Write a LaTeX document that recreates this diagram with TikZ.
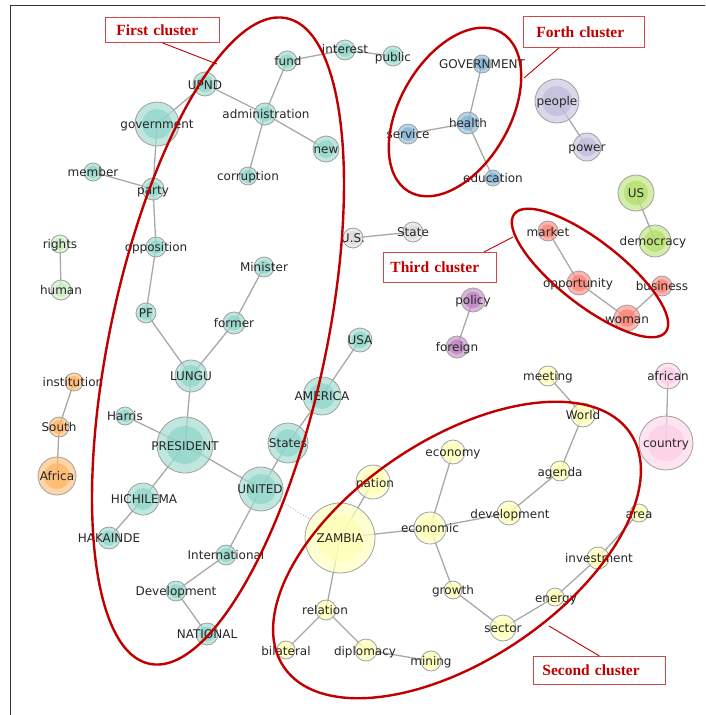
\documentclass[tikz,border=0pt]{standalone}
\usepackage{fontspec}
\setmainfont{DejaVu Sans}
\newfontfamily\clfont{Liberation Serif}
\usetikzlibrary{calc}
\definecolor{cteal}{HTML}{8DD3C7}
\definecolor{cyel}{HTML}{FFFFB3}
\definecolor{clav}{HTML}{BEBADA}
\definecolor{csal}{HTML}{FB8072}
\definecolor{cblue}{HTML}{80B1D3}
\definecolor{corange}{HTML}{FDB462}
\definecolor{cgreen}{HTML}{B3DE69}
\definecolor{cpink}{HTML}{FCCDE5}
\definecolor{cgray}{HTML}{D9D9D9}
\definecolor{cpurple}{HTML}{BC80BD}
\definecolor{clgreen}{HTML}{CCEBC5}
\definecolor{vborder}{HTML}{A0A0A0}
\definecolor{edgec}{HTML}{A8A8A8}
\definecolor{clred}{HTML}{C00000}
\definecolor{boxred}{HTML}{D04848}
\pgfdeclarelayer{bg}
\pgfsetlayers{bg,main}
\tikzset{
  vtx/.style n args={2}{circle, inner sep=0pt, minimum size={2*#1pt},
    draw=vborder, line width=0.8pt, fill=#2!80!white, fill opacity=0.7,
    path picture={\fill[#2, fill opacity=0.7] (path picture bounding box.center) circle[radius={0.68*#1pt}];}},
  lbl/.style={inner sep=0pt, text height=8.7pt, text depth=0pt, font=\fontsize{12}{14}\selectfont, text=black!85},
  edge/.style={draw=edgec, line width=1.3pt},
  dotedge/.style={draw=edgec!80, line width=1pt, dotted},
  cluster/.style={draw=clred, line width=2.4pt},
  cbox/.style={draw=boxred, line width=0.9pt, anchor=north west, align=left, inner ysep=0pt,
    font=\clfont\bfseries\fontsize{15.5}{18}\selectfont, text=clred},
  lead/.style={draw=clred, line width=0.9pt},
}
\begin{document}
\begin{tikzpicture}[x=1pt,y=-1pt]
\useasboundingbox (0,0) rectangle (705,715);
\draw[black!80, line width=0.8pt] (705,5.5) -- (10.5,5.5) -- (10.5,715);

% vertices and labels: name/x/y/r/color/text/dx/dy
\foreach \nm/\xx/\yy/\rr/\cc/\tx/\dx/\dy in {
 government/157/124/22/cteal/government/0/0,
 UPND/205/84/12/cteal/UPND/0/1,
 administration/265/114/11/cteal/administration/1/0,
 fund/287/61/10/cteal/fund/1/0,
 interest/345/50/10/cteal/interest/0/-1,
 public/393/56/10/cteal/public/0/1,
 new/326/149/13/cteal/new/0/0,
 corruption/248/176/9/cteal/corruption/0/0,
 member/93/172/9/cteal/member/0/0,
 party/153/189/11/cteal/party/0/1,
 opposition/156/247/10/cteal/opposition/0/0,
 Minister/264/267/10/cteal/Minister/0/0,
 PF/146/313/10/cteal/PF/0/0,
 former/234/323/11/cteal/former/0/0,
 LUNGU/191/376/16/cteal/LUNGU/0/0,
 USA/360/340/12/cteal/USA/0/0,
 AMERICA/322/396/19/cteal/AMERICA/0/0,
 Harris/125/416/9/cteal/Harris/0/0,
 PRESIDENT/185/445/28/cteal/PRESIDENT/0/1,
 States/288/443/20/cteal/States/0/0,
 UNITED/261/489/22/cteal/UNITED/-1/0,
 HICHILEMA/143/499/16/cteal/HICHILEMA/1/0,
 HAKAINDE/109/538/11/cteal/HAKAINDE/0/0,
 International/226/555/10/cteal/International/0/0,
 Development/176/591/10/cteal/Development/0/0,
 NATIONAL/207/634/11/cteal/NATIONAL/0/0,
 ZAMBIA/340/538/35/cyel/ZAMBIA/0/0,
 nation/373/482/17/cyel/nation/2/1,
 economy/453/452/12/cyel/economy/0/0,
 economic/430/528/16/cyel/economic/0/0,
 development/509/513/12/cyel/development/1/1,
 agenda/560/471/10/cyel/agenda/0/1,
 World/583/415/12/cyel/World/0/0,
 meeting/548/376/10/cyel/meeting/0/0,
 area/639/513/9/cyel/area/0/1,
 investment/598/558/11/cyel/investment/1/0,
 growth/453/590/9/cyel/growth/0/0,
 energy/555/597/9/cyel/energy/1/1,
 sector/503/628/13/cyel/sector/0/0,
 relation/326/610/10/cyel/relation/-1/0,
 bilateral/286/650/9/cyel/bilateral/0/1,
 diplomacy/366/650/11/cyel/diplomacy/-1/1,
 mining/431/661/10/cyel/mining/0/0,
 GOVERNMENT/482/64/9/cblue/GOVERNMENT/0/0,
 health/468/123/11/cblue/health/0/0,
 service/408/134/10/cblue/service/0/0,
 education/493/178/8/cblue/education/0/0,
 people/557/101/22/clav/people/0/0,
 power/587/147/14/clav/power/0/0,
 US/636/193/18/cgreen/US/0/0,
 democracy/655/241/16/cgreen/democracy/-2/0,
 market/548/231/10/csal/market/0/1,
 opportunity/579/283/12/csal/opportunity/-1/0,
 business/662/286/10/csal/business/0/0,
 woman/627/318/13/csal/woman/0/1,
 USdot/353/238/10/cgray/U.S./0/0,
 State/413/232/10/cgray/State/0/0,
 policy/473/300/12/cpurple/policy/0/0,
 foreign/457/347/11/cpurple/foreign/0/0,
 african/668/376/13/cpink/african/0/0,
 country/666/443/27/cpink/country/0/0,
 rights/60/244/9/clgreen/rights/0/0,
 human/61/290/10/clgreen/human/0/0,
 institution/74/382/9/corange/institution/-1/0,
 South/59/427/10/corange/South/0/0,
 Africa/57/476/19/corange/Africa/0/0}
{
  \node[vtx={\rr}{\cc}] (\nm) at (\xx,\yy) {};
  \node[lbl] (\nm-l) at (\xx+\dx,\yy+\dy) {\tx};
}

% edges
\begin{pgfonlayer}{bg}
\foreach \a/\b in {government/UPND, UPND/administration, administration/fund,
  fund/interest, interest/public, administration/new, administration/corruption,
  government/party, member/party, party/opposition, opposition/PF, PF/LUNGU,
  LUNGU/former, former/Minister, LUNGU/PRESIDENT, Harris/PRESIDENT,
  PRESIDENT/HICHILEMA, HICHILEMA/HAKAINDE, PRESIDENT/UNITED, UNITED/States,
  States/AMERICA, AMERICA/USA, UNITED/International, International/Development,
  Development/NATIONAL, USdot/State, rights/human, institution/South, South/Africa,
  GOVERNMENT/health, health/service, health/education, people/power, US/democracy,
  market/opportunity, opportunity/woman, woman/business, policy/foreign,
  african/country, meeting/World, World/agenda, agenda/development,
  development/economic, economic/economy, economic/ZAMBIA, ZAMBIA/nation,
  ZAMBIA/relation, economic/growth, growth/sector, sector/energy,
  energy/investment, investment/area, relation/bilateral, relation/diplomacy,
  diplomacy/mining}
  \draw[edge] (\a.center) -- (\b.center);
\draw[dotedge] (UNITED) -- (ZAMBIA);
\end{pgfonlayer}

% cluster ellipses
\draw[cluster, rotate around={-12:(218,341)}] (218,341) ellipse[x radius=108, y radius=330];
\draw[cluster, rotate around={-30:(455,112)}] (455,112) ellipse[x radius=55, y radius=92];
\draw[cluster, rotate around={-38:(590,273)}] (590,273) ellipse[x radius=96, y radius=32];
\draw[cluster, rotate around={34:(457,550)}] (457,550) ellipse[x radius=209, y radius=110];

% cluster boxes
\node[cbox, text width=92pt, inner xsep=11pt, minimum height=25pt] (b1) at (105,17) {First cluster};
\node[cbox, text width=95pt, inner xsep=13pt, minimum height=31pt] (b2) at (523,16) {Forth cluster};
\node[cbox, text width=99pt, inner xsep=7pt, minimum height=30pt] (b3) at (383,252) {Third cluster};
\node[cbox, text width=114pt, inner xsep=9pt, minimum height=28pt] (b4) at (533,656) {Second cluster};

\coordinate (e1) at (217,64);
\coordinate (e2) at (524,78);
\coordinate (e3) at (513,237);
\coordinate (e4) at (549,626);
\draw[lead] (b1.south) -- (e1);
\draw[lead] ($(b2.south west)+(36,0)$) -- (e2);
\draw[lead] ($(b3.north east)+(-13,0)$) -- (e3);
\draw[lead] (b4.north) -- (e4);
\end{tikzpicture}
\end{document}
